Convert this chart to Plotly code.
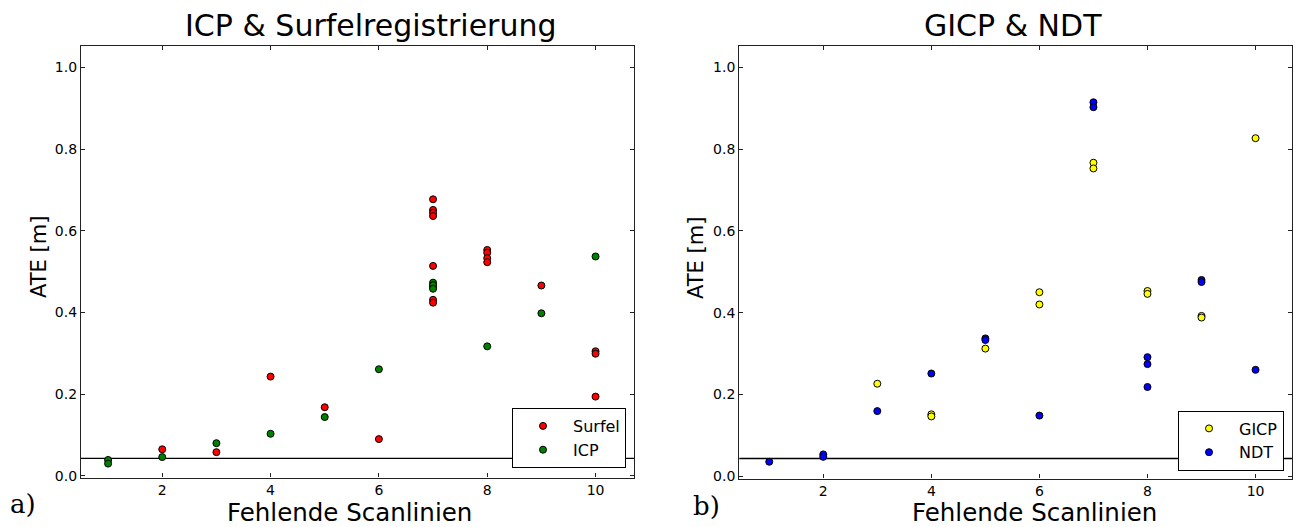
import plotly.graph_objects as go

# ---- data (left panel: ICP & Surfel) ----
surfel_x = [2, 3, 4, 5, 6, 7, 7, 7, 7, 7, 7, 7, 7, 8, 8, 8, 8, 9, 10, 10, 10]
surfel_y = [0.065, 0.058, 0.243, 0.168, 0.090, 0.677, 0.651, 0.644, 0.636, 0.514,
            0.462, 0.431, 0.424, 0.553, 0.546, 0.533, 0.523, 0.466, 0.305, 0.299, 0.194]
icp_x = [1, 1, 2, 3, 4, 5, 6, 7, 7, 7, 8, 9, 10]
icp_y = [0.039, 0.030, 0.046, 0.080, 0.103, 0.144, 0.261, 0.473, 0.467, 0.458,
         0.317, 0.398, 0.537]

# ---- data (right panel: GICP & NDT) ----
gicp_x = [3, 4, 4, 5, 6, 6, 7, 7, 8, 8, 9, 9, 10]
gicp_y = [0.226, 0.151, 0.146, 0.312, 0.450, 0.420, 0.767, 0.753, 0.453, 0.446,
          0.392, 0.388, 0.827]
ndt_x = [1, 2, 2, 3, 4, 5, 5, 6, 7, 7, 8, 8, 8, 9, 9, 10]
ndt_y = [0.035, 0.053, 0.047, 0.159, 0.251, 0.337, 0.333, 0.148, 0.915, 0.903,
         0.291, 0.274, 0.218, 0.480, 0.475, 0.260]

threshold = 0.043

x_ticks = [2, 4, 6, 8, 10]
y_ticks = [0.0, 0.2, 0.4, 0.6, 0.8, 1.0]

titles = ["ICP & Surfelregistrierung", "GICP & NDT"]
x_label = "Fehlende Scanlinien"
y_label = "ATE [m]"
panel_labels = ["a)", "b)"]

W, H = 1301, 527
FONT = "DejaVu Sans"


def px(xp):
    return xp / W


def py(yp):
    return 1 - yp / H


fig = go.Figure()

mk = lambda c: dict(size=7, color=c, line=dict(color="black", width=1))

fig.add_trace(go.Scatter(x=surfel_x, y=surfel_y, mode="markers", name="Surfel",
                         marker=mk("#ff0000"), xaxis="x", yaxis="y", legend="legend"))
fig.add_trace(go.Scatter(x=icp_x, y=icp_y, mode="markers", name="ICP",
                         marker=mk("#008000"), xaxis="x", yaxis="y", legend="legend"))
fig.add_trace(go.Scatter(x=gicp_x, y=gicp_y, mode="markers", name="GICP",
                         marker=mk("#ffff00"), xaxis="x2", yaxis="y2", legend="legend2"))
fig.add_trace(go.Scatter(x=ndt_x, y=ndt_y, mode="markers", name="NDT",
                         marker=mk("#0000ff"), xaxis="x2", yaxis="y2", legend="legend2"))

for xr, yr in (("x", "y"), ("x2", "y2")):
    fig.add_shape(type="line", xref=f"{xr} domain", x0=0, x1=1, yref=yr,
                  y0=threshold, y1=threshold, line=dict(color="black", width=1.3),
                  layer="below")

axis_common = dict(showline=True, linecolor="#222222", linewidth=1.3, mirror="ticks",
                   ticks="inside", ticklen=4, tickcolor="#222222", showgrid=False,
                   zeroline=False, automargin=False,
                   tickfont=dict(family=FONT, size=14, color="black"))

legend_common = dict(xanchor="right", yanchor="bottom", bgcolor="white",
                     bordercolor="black", borderwidth=1, itemwidth=50,
                     font=dict(family=FONT, size=16, color="black"))

fig.update_layout(
    template="none",
    width=W, height=H, margin=dict(l=0, r=0, t=0, b=0, autoexpand=False),
    paper_bgcolor="white", plot_bgcolor="white",
    xaxis=dict(domain=[px(81), px(634)], range=[0.5, 10.71], tickvals=x_ticks,
               anchor="y", **axis_common),
    yaxis=dict(domain=[py(477.5), py(45.7)], range=[-0.004, 1.053], tickvals=y_ticks,
               tickformat=".1f", anchor="x", **axis_common),
    xaxis2=dict(domain=[px(739.3), px(1292.3)], range=[0.446, 10.68], tickvals=x_ticks,
                anchor="y2", **axis_common),
    yaxis2=dict(domain=[py(478.5), py(46.3)], range=[-0.006, 1.052], tickvals=y_ticks,
                tickformat=".1f", anchor="x2", **axis_common),
    legend=dict(x=px(626), y=py(468), **legend_common),
    legend2=dict(x=px(1284), y=py(470.5), **legend_common),
    showlegend=True,
)

ann = []
# titles
for txt, cx in zip(titles, [371, 1013]):
    ann.append(dict(text=txt, x=px(cx), y=py(26), xref="paper", yref="paper",
                    xanchor="center", yanchor="middle", showarrow=False,
                    font=dict(family=FONT, size=30, color="black")))
# x labels
for cx, cy in [(349, 496), (1034, 496)]:
    ann.append(dict(text=x_label, x=px(cx), y=py(cy), xref="paper", yref="paper",
                    xanchor="center", yanchor="top", showarrow=False,
                    font=dict(family=FONT, size=24.5, color="black")))
# y labels
for cx, cy in [(39, 257), (696, 258)]:
    ann.append(dict(text=y_label, x=px(cx), y=py(cy), xref="paper", yref="paper",
                    xanchor="center", yanchor="middle", showarrow=False, textangle=-90,
                    font=dict(family=FONT, size=21, color="black")))
# panel labels
for txt, cx, cy in zip(panel_labels, [23, 706], [504, 506]):
    ann.append(dict(text=txt, x=px(cx), y=py(cy), xref="paper", yref="paper",
                    xanchor="center", yanchor="middle", showarrow=False,
                    font=dict(family="DejaVu Serif", size=26, color="black")))

fig.update_layout(annotations=ann)

fig.write_html("out.html", config={"displayModeBar": False},
               post_script="document.body.style.margin='0';document.body.style.overflow='hidden';")
